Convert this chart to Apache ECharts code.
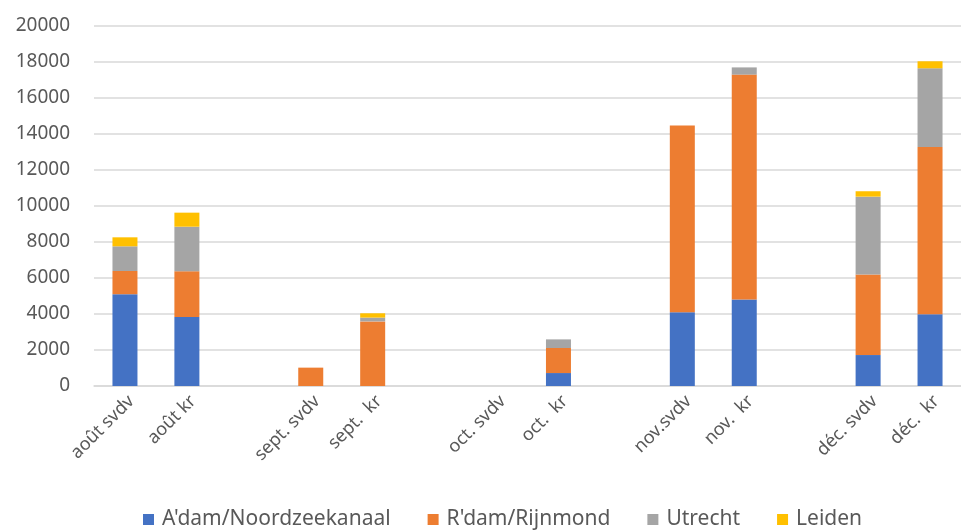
<!DOCTYPE html>
<html>
<head>
<meta charset="utf-8">
<script src="https://cdn.jsdelivr.net/npm/echarts@6/dist/echarts.min.js"></script>
<style>
  html, body { margin: 0; padding: 0; background: #fff; }
  #chart { width: 961px; height: 530px; }
</style>
</head>
<body>
<div id="chart"></div>
<script>
// Months paired svdv / kr, with empty spacer slots between the months
const categories = ['août svdv', 'août kr', '', 'sept. svdv', 'sept.  kr', '', 'oct. svdv', 'oct.  kr', '', 'nov.svdv', 'nov.  kr', '', 'déc. svdv', 'déc.  kr'];

const adamNoordzeekanaal = [5100, 3830, null, 0,    0,    null, null, 720,  null, 4100,  4800,  null, 1720, 3980];
const rdamRijnmond       = [1290, 2540, null, 1020, 3590, null, null, 1390, null, 10370, 12500, null, 4480, 9300];
const utrecht            = [1370, 2480, null, 0,    210,  null, null, 480,  null, 0,     400,   null, 4320, 4370];
const leiden             = [500,  780,  null, 0,    240,  null, null, 0,    null, 0,     0,     null, 300,  390];

const seriesNames = ["A'dam/Noordzeekanaal", "R'dam/Rijnmond", 'Utrecht', 'Leiden'];
const seriesColors = ['#4472C4', '#ED7D31', '#A5A5A5', '#FFC000'];
const seriesValues = [adamNoordzeekanaal, rdamRijnmond, utrecht, leiden];

const yTicks = { min: 0, max: 20000, interval: 2000 };

const font = '"Noto Sans", "Open Sans", sans-serif';

const chart = echarts.init(document.getElementById('chart'), null, { renderer: 'canvas' });

chart.setOption({
  animation: false,
  textStyle: { fontFamily: font },
  legend: {
    top: 509,
    left: 143,
    padding: 0,
    icon: 'rect',
    itemWidth: 11,
    itemHeight: 11,
    itemGap: 37,
    textStyle: { fontSize: 21, color: '#595959', fontFamily: font, padding: [0, 0, 0, 3] },
    data: seriesNames
  },
  grid: { left: 94, right: -12, top: 26, bottom: 144 },
  xAxis: {
    type: 'category',
    data: categories,
    axisLine: { lineStyle: { color: '#d9d9d9', width: 1.5 } },
    axisTick: { show: false },
    axisLabel: {
      interval: 0,
      rotate: 45,
      fontSize: 18,
      color: '#595959',
      margin: 6,
      verticalAlign: 'top'
    }
  },
  yAxis: {
    type: 'value',
    min: yTicks.min,
    max: yTicks.max,
    interval: yTicks.interval,
    axisLine: { show: false },
    axisTick: { show: false },
    splitLine: { lineStyle: { color: '#d9d9d9', width: 1.5 } },
    axisLabel: { fontSize: 19, color: '#595959', margin: 24, formatter: v => String(v) }
  },
  series: seriesNames.map((name, i) => ({
    name: name,
    type: 'bar',
    stack: 'total',
    barWidth: 25,
    itemStyle: { color: seriesColors[i] },
    data: seriesValues[i]
  }))
});
</script>
</body>
</html>
